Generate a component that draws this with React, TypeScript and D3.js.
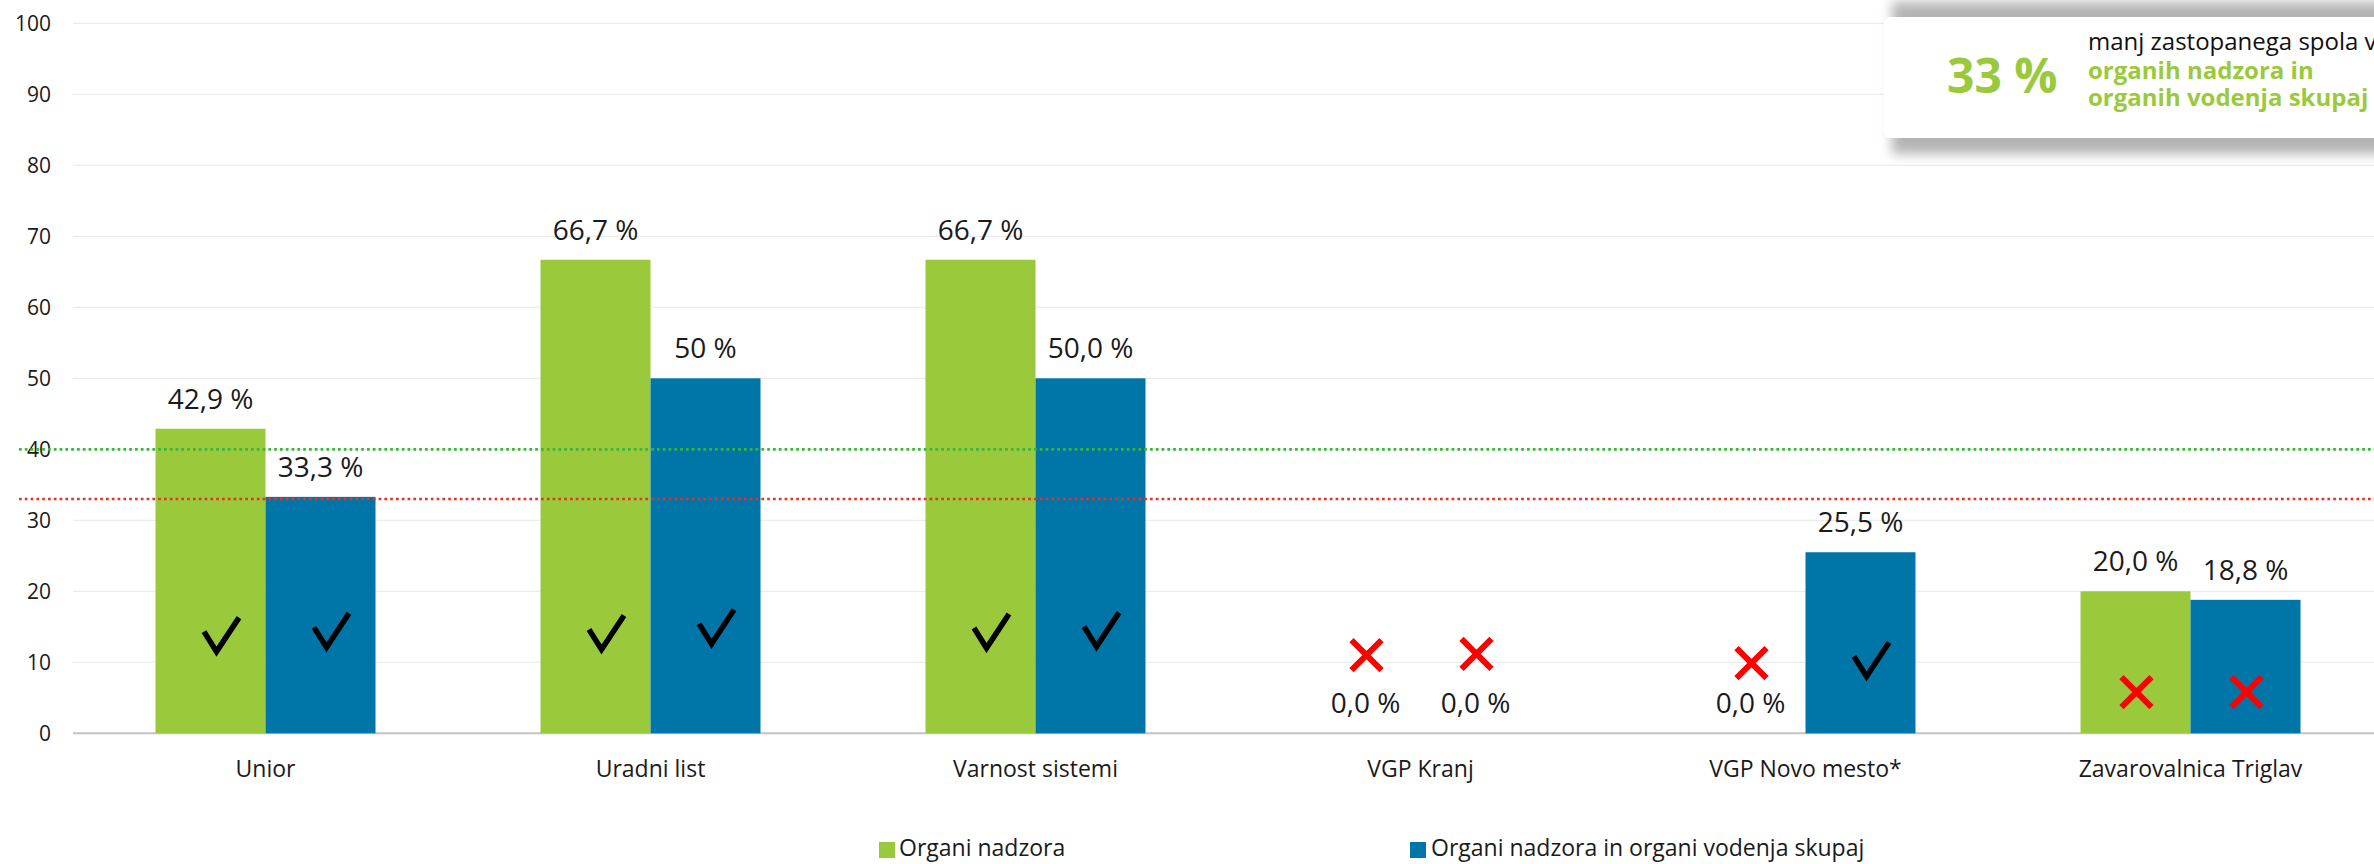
import React from "react";
import * as d3 from "d3";

const categories = ["Unior", "Uradni list", "Varnost sistemi", "VGP Kranj", "VGP Novo mesto*", "Zavarovalnica Triglav"];
const seriesNames = ["Organi nadzora", "Organi nadzora in organi vodenja skupaj"];
const organiNadzora = [42.9, 66.7, 66.7, 0, 0, 20.0];
const organiSkupaj = [33.3, 50, 50, 0, 25.5, 18.8];
const labelsNadzora = ["42,9 %", "66,7 %", "66,7 %", "0,0 %", "0,0 %", "20,0 %"];
const labelsSkupaj = ["33,3 %", "50 %", "50,0 %", "0,0 %", "25,5 %", "18,8 %"];
// marker: "check" or "cross", and vertical position (in axis units)
const markNadzora = ["check", "check", "check", "cross", "cross", "cross"];
const markSkupaj = ["check", "check", "check", "cross", "check", "cross"];
const markYNadzora = [13.9, 14.2, 14.4, 11.0, 9.9, 5.8];
const markYSkupaj = [14.5, 15.0, 14.6, 11.2, 10.4, 5.8];
const yTicks = [0, 10, 20, 30, 40, 50, 60, 70, 80, 90, 100];
const targetGreen = 40;
const targetRed = 33;
const boxBig = "33 %";
const boxLine1 = "manj zastopanega spola v";
const boxLine2 = "organih nadzora in";
const boxLine3 = "organih vodenja skupaj";

const W = 2374;
const H = 864;
const GREEN = "#9ACA3C";
const BLUE = "#0076A8";
const FONT = "'Open Sans', sans-serif";

export default function App() {
  const x = d3
    .scaleBand<string>()
    .domain(categories)
    .range([73, 73 + 6 * 385])
    .paddingInner(165 / 385)
    .paddingOuter(165 / 385 / 2);
  const xi = d3.scaleBand<number>().domain([0, 1]).range([0, x.bandwidth()]).padding(0);
  const y = d3.scaleLinear().domain([0, 100]).range([733.3, 23.3]);

  const series = [
    { values: organiNadzora, labels: labelsNadzora, marks: markNadzora, markY: markYNadzora, color: GREEN },
    { values: organiSkupaj, labels: labelsSkupaj, marks: markSkupaj, markY: markYSkupaj, color: BLUE },
  ];

  const checkPath = (cx: number, cy: number) => {
    const bx = cx - 2;
    const by = cy + 17;
    return `M${bx - 12.5},${by - 20}L${bx},${by}L${bx + 22.5},${by - 34}`;
  };
  const crossPath = (cx: number, cy: number) => {
    const r = 15;
    return `M${cx - r},${cy - r}L${cx + r},${cy + r}M${cx + r},${cy - r}L${cx - r},${cy + r}`;
  };

  return (
    <div style={{ position: "absolute", left: 0, top: 0 }}>
      <svg width={W} height={H} style={{ display: "block", background: "#fff" }}>
        <defs>
          <filter id="blur" x="-20%" y="-50%" width="140%" height="200%">
            <feGaussianBlur stdDeviation="6" />
          </filter>
        </defs>
        {/* gridlines */}
        {yTicks.map((t) => (
          <line
            key={"g" + t}
            x1={73}
            x2={W}
            y1={y(t)}
            y2={y(t)}
            stroke={t === 0 ? "#c3c3c3" : "#ececec"}
            strokeWidth={t === 0 ? 2 : 1.3}
          />
        ))}
        {/* y tick labels */}
        {yTicks.map((t) => (
          <text
            key={"t" + t}
            x={51}
            y={y(t)}
            dy="0.36em"
            textAnchor="end"
            fontFamily={FONT}
            fontSize={21}
            fill="#1a1a1a"
          >
            {t}
          </text>
        ))}
        {/* bars */}
        {categories.map((c, i) =>
          series.map((s, si) => {
            const v = s.values[i];
            const bx = (x(c) as number) + (xi(si) as number);
            return (
              <rect
                key={c + si}
                x={bx}
                y={y(v)}
                width={xi.bandwidth()}
                height={y(0) - y(v)}
                fill={s.color}
              />
            );
          })
        )}
        {/* target lines */}
        <line x1={19} x2={W} y1={y(targetGreen)} y2={y(targetGreen)} stroke="#3DB43C" strokeWidth={2.7} strokeDasharray="2.7 3.1" />
        <line x1={19} x2={W} y1={y(targetRed)} y2={y(targetRed)} stroke="#E5302B" strokeWidth={2.7} strokeDasharray="2.7 3.1" />
        {/* data labels */}
        {categories.map((c, i) =>
          series.map((s, si) => {
            const v = s.values[i];
            const cx = (x(c) as number) + (xi(si) as number) + xi.bandwidth() / 2;
            return (
              <text
                key={"l" + c + si}
                x={cx}
                y={y(v) - 20}
                textAnchor="middle"
                fontFamily={FONT}
                fontSize={28}
                fill="#1a1a1a"
              >
                {s.labels[i]}
              </text>
            );
          })
        )}
        {/* markers */}
        {categories.map((c, i) =>
          series.map((s, si) => {
            const cx = (x(c) as number) + (xi(si) as number) + xi.bandwidth() / 2;
            const cy = y(s.markY[i]);
            if (s.marks[i] === "check") {
              return (
                <path
                  key={"m" + c + si}
                  d={checkPath(cx + 8, cy)}
                  fill="none"
                  stroke="#000"
                  strokeWidth={5.5}
                  strokeLinejoin="miter"
                />
              );
            }
            return (
              <path
                key={"m" + c + si}
                d={crossPath(cx + 1, cy)}
                fill="none"
                stroke="#FF0000"
                strokeWidth={6}
              />
            );
          })
        )}
        {/* category labels */}
        {categories.map((c) => (
          <text
            key={"c" + c}
            x={(x(c) as number) + x.bandwidth() / 2}
            y={777}
            textAnchor="middle"
            fontFamily={FONT}
            fontSize={23}
            fill="#1a1a1a"
          >
            {c}
          </text>
        ))}
        {/* legend */}
        <rect x={879} y={842} width={16} height={16} fill={GREEN} />
        <text x={899} y={856} fontFamily={FONT} fontSize={23} fill="#1a1a1a">
          {seriesNames[0]}
        </text>
        <rect x={1410} y={842} width={16} height={16} fill={BLUE} />
        <text x={1431} y={856} fontFamily={FONT} fontSize={23} fill="#1a1a1a">
          {seriesNames[1]}
        </text>
        {/* annotation box */}
        <rect x={1892} y={2} width={600} height={152} fill="#b4b4b4" filter="url(#blur)" />
        <rect x={1884} y={17} width={600} height={121} rx={6} fill="#fff" />
        <text x={1947} y={93} fontFamily={FONT} fontSize={48} fontWeight={700} fill={GREEN}>
          {boxBig}
        </text>
        <text x={2088} y={50} fontFamily={FONT} fontSize={24} fill="#111">
          {boxLine1}
        </text>
        <text x={2088} y={79} fontFamily={FONT} fontSize={24} fontWeight={700} fill={GREEN}>
          {boxLine2}
        </text>
        <text x={2088} y={106} fontFamily={FONT} fontSize={24} fontWeight={700} fill={GREEN}>
          {boxLine3}
        </text>
      </svg>
    </div>
  );
}
